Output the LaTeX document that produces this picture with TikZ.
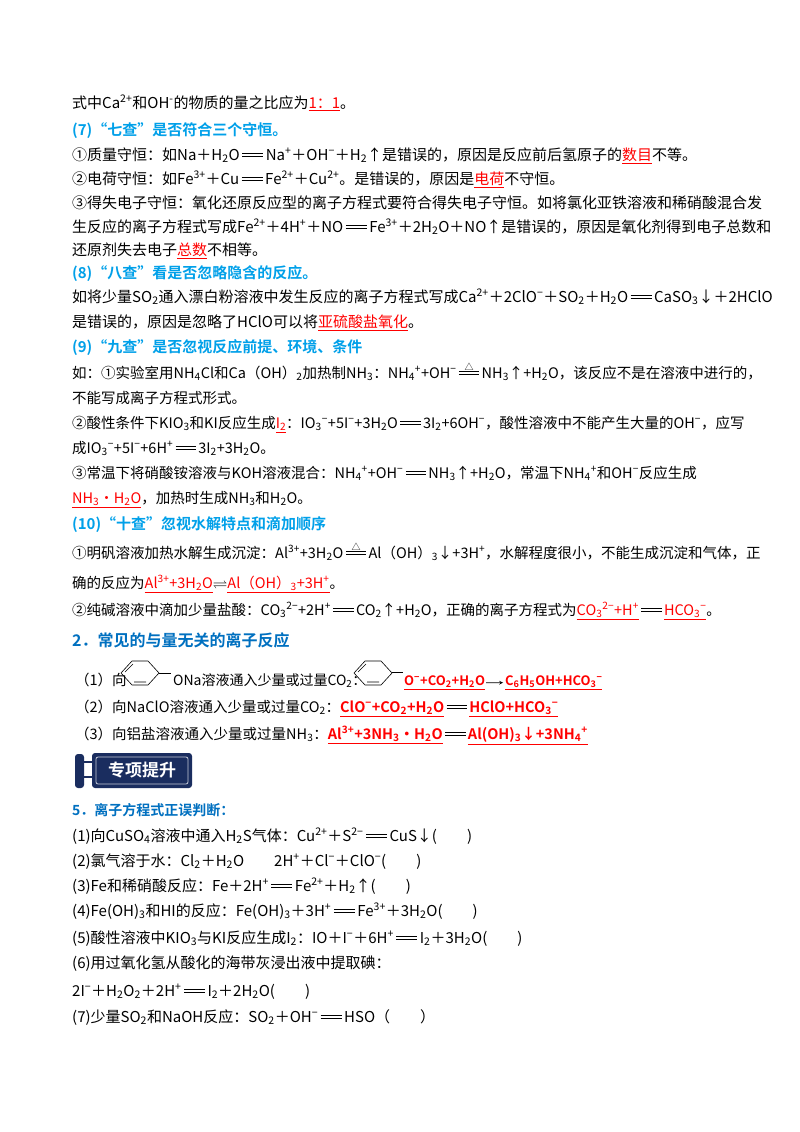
\documentclass[tikz,border=0pt]{standalone}
\usepackage{fontspec}
\setmainfont{Noto Sans CJK SC}[BoldFont={Noto Sans CJK SC Bold}]
\usepackage{amssymb}
\definecolor{hblue}{RGB}{0,160,233}
\definecolor{sblue}{RGB}{0,112,192}
\definecolor{navy}{RGB}{26,45,95}
\newcommand\dn[1]{\textsubscript{#1}}
\newcommand\up[1]{\textsuperscript{#1}}
\newcommand\rd[1]{\textcolor{red}{\underline{#1}}}
\newcommand\rdb[1]{\textcolor{red}{\underline{\textbf{#1}}}}
\newcommand\eqs{\,\rlap{\rule[0.22em]{1.4em}{0.07em}}\rule[0.4em]{1.4em}{0.07em}\,}
\newcommand\eqd{\,\rlap{\raisebox{0.55em}{\makebox[1.4em]{\fontsize{9}{9}\selectfont △}}}\rlap{\rule[0.22em]{1.4em}{0.07em}}\rule[0.4em]{1.4em}{0.07em}\,}
\tikzset{
 txt/.style={anchor=base west, inner sep=0, font=\fontsize{15}{17}\selectfont},
 txs/.style={anchor=base west, inner sep=0, font=\fontsize{14.5}{16}\selectfont},
 head/.style={anchor=base west, inner sep=0, font=\fontsize{15}{17}\selectfont\bfseries, text=hblue},
 ring/.style={line width=0.6pt}
}
\begin{document}
\begin{tikzpicture}[x=1pt,y=-1pt]
\useasboundingbox[fill=white] (0,0) rectangle (800,1132);
\node[txt] (l1) at (72,108) {式中Ca\up{2+}和OH\up{-}的物质的量之比应为\rd{1：1}。};
\node[head] (h7) at (72,135) {(7)“七查”是否符合三个守恒。};
\node[txt] (l2) at (72,160) {①质量守恒：如Na＋H\dn{2}O\eqs Na\up{+}＋OH\up{−}＋H\dn{2}↑是错误的，原因是反应前后氢原子的\rd{数目}不等。};
\node[txt] (l3) at (72,184) {②电荷守恒：如Fe\up{3+}＋Cu\eqs Fe\up{2+}＋Cu\up{2+}。是错误的，原因是\rd{电荷}不守恒。};
\node[txt] (l4) at (72,208) {③得失电子守恒：氧化还原反应型的离子方程式要符合得失电子守恒。如将氯化亚铁溶液和稀硝酸混合发};
\node[txt] (l5) at (72,232) {生反应的离子方程式写成Fe\up{2+}＋4H\up{+}＋NO\eqs Fe\up{3+}＋2H\dn{2}O＋NO↑是错误的，原因是氧化剂得到电子总数和};
\node[txt] (l6) at (72,255) {还原剂失去电子\rd{总数}不相等。};
\node[head] (h8) at (72,278) {(8)“八查”看是否忽略隐含的反应。};
\node[txt] (l7) at (72,302) {如将少量SO\dn{2}通入漂白粉溶液中发生反应的离子方程式写成Ca\up{2+}＋2ClO\up{−}＋SO\dn{2}＋H\dn{2}O\eqs CaSO\dn{3}↓＋2HClO};
\node[txt] (l8) at (72,327) {是错误的，原因是忽略了HClO可以将\rd{亚硫酸盐氧化}。};
\node[head] (h9) at (72,352) {(9)“九查”是否忽视反应前提、环境、条件};
\node[txs] (l9) at (72,378) {如：①实验室用NH\dn{4}Cl和Ca（OH）\dn{2}加热制NH\dn{3}：NH\dn{4}\up{+}+OH\up{−}\eqd NH\dn{3}↑+H\dn{2}O，该反应不是在溶液中进行的，};
\node[txs] (l10) at (72,403) {不能写成离子方程式形式。};
\node[txs] (l11) at (72,428) {②酸性条件下KIO\dn{3}和KI反应生成\rd{I\dn{2}}：IO\dn{3}\up{−}+5I\up{−}+3H\dn{2}O\eqs 3I\dn{2}+6OH\up{−}，酸性溶液中不能产生大量的OH\up{−}，应写};
\node[txs] (l12) at (72,453) {成IO\dn{3}\up{−}+5I\up{−}+6H\up{+}\eqs 3I\dn{2}+3H\dn{2}O。};
\node[txs] (l13) at (72,478) {③常温下将硝酸铵溶液与KOH溶液混合：NH\dn{4}\up{+}+OH\up{−}\eqs NH\dn{3}↑+H\dn{2}O，常温下NH\dn{4}\up{+}和OH\up{−}反应生成};
\node[txs] (l14) at (72,503) {\rd{NH\dn{3}·H\dn{2}O}，加热时生成NH\dn{3}和H\dn{2}O。};
\node[head] (h10) at (72,529) {(10)“十查”忽视水解特点和滴加顺序};
\node[txs] (l15) at (72,558) {①明矾溶液加热水解生成沉淀：Al\up{3+}+3H\dn{2}O\eqd Al（OH）\dn{3}↓+3H\up{+}，水解程度很小，不能生成沉淀和气体，正};
\node[txs] (l16) at (72,588) {确的反应为\rd{Al\up{3+}+3H\dn{2}O}$\rightleftharpoons$\rd{Al（OH）\dn{3}+3H\up{+}}。};
\node[txs] (l17) at (72,615) {②纯碱溶液中滴加少量盐酸：CO\dn{3}\up{2−}+2H\up{+}\eqs CO\dn{2}↑+H\dn{2}O，正确的离子方程式为\rd{CO\dn{3}\up{2−}+H\up{+}}\eqs\rd{HCO\dn{3}\up{−}}。};
\node[anchor=base west, inner sep=0, font=\fontsize{16}{18}\selectfont\bfseries, text=sblue] (h2) at (72,646) {2．常见的与量无关的离子反应};
% line (1)
\node[txs] (s1a) at (75,685) {（1）向};
\draw[ring] (121,673) -- (132,661) -- (148,661) -- (159,673) -- (148,685) -- (132,685) -- cycle;
\draw[ring] (125,672) -- (133,664) (134,682) -- (146,682);
\draw[ring] (159,673) -- (171,673);
\node[txs, font=\fontsize{14}{16}\selectfont] (s1b) at (173,685) {ONa溶液通入少量或过量CO\dn{2}：};
\draw[ring] (354,673) -- (365,661) -- (381,661) -- (392,673) -- (381,685) -- (365,685) -- cycle;
\draw[ring] (358,672) -- (366,664) (367,682) -- (379,682);
\draw[ring] (392,672) -- (403,672);
\node[txs, font=\fontsize{13}{15}\selectfont\bfseries] (s1c) at (404,685) {\rdb{O\up{−}+CO\dn{2}+H\dn{2}O}};
\node[txs, font=\fontsize{13}{15}\selectfont\bfseries] (s1d) at (505,685) {\rdb{C\dn{6}H\dn{5}OH+HCO\dn{3}\up{−}}};
\draw[-stealth, line width=0.7pt] ([xshift=1pt]s1c.east) -- ([xshift=-2pt]s1d.west);
\node[txs] (s2) at (75,712) {（2）向NaClO溶液通入少量或过量CO\dn{2}：\textbf{\rdb{ClO\up{−}+CO\dn{2}+H\dn{2}O}\eqs\rdb{HClO+HCO\dn{3}\up{−}}}};
\node[txs] (s3) at (75,739) {（3）向铝盐溶液通入少量或过量NH\dn{3}：\textbf{\rdb{Al\up{3+}+3NH\dn{3}·H\dn{2}O}\eqs\rdb{Al(OH)\dn{3}↓+3NH\dn{4}\up{+}}}};
% banner
\draw[navy, line width=1.2pt] (83,762) -- (93,762) (83,777) -- (93,777);
\fill[navy, rounded corners=3pt] (75,754) rectangle (84,788);
\fill[navy, rounded corners=3pt] (92,753) rectangle (192,788);
\draw[white!75!navy, line width=0.8pt, rounded corners=2pt] (96,757) rectangle (188,784);
\node[anchor=center, text=white, font=\fontsize{17}{19}\selectfont\bfseries] (ban) at (142,770.5) {专项提升};
\node[anchor=base west, inner sep=0, font=\fontsize{14}{16}\selectfont\bfseries, text=sblue] (h5) at (72,815) {5．离子方程式正误判断：};
\node[txt] (q1) at (72,841) {(1)向CuSO\dn{4}溶液中通入H\dn{2}S气体：Cu\up{2+}＋S\up{2−}\eqs CuS↓(\hspace{2em})};
\node[txt] (q2) at (72,866) {(2)氯气溶于水：Cl\dn{2}＋H\dn{2}O\hspace{2em}2H\up{+}＋Cl\up{−}＋ClO\up{−}(\hspace{2em})};
\node[txt] (q3) at (72,891) {(3)Fe和稀硝酸反应：Fe＋2H\up{+}\eqs Fe\up{2+}＋H\dn{2}↑(\hspace{2em})};
\node[txt] (q4) at (72,916) {(4)Fe(OH)\dn{3}和HI的反应：Fe(OH)\dn{3}＋3H\up{+}\eqs Fe\up{3+}＋3H\dn{2}O(\hspace{2em})};
\node[txt] (q5) at (72,943) {(5)酸性溶液中KIO\dn{3}与KI反应生成I\dn{2}：IO＋I\up{−}＋6H\up{+}\eqs I\dn{2}＋3H\dn{2}O(\hspace{2em})};
\node[txt] (q6) at (72,968) {(6)用过氧化氢从酸化的海带灰浸出液中提取碘：};
\node[txt] (q7) at (72,996) {2I\up{−}＋H\dn{2}O\dn{2}＋2H\up{+}\eqs I\dn{2}＋2H\dn{2}O(\hspace{2em})};
\node[txt] (q8) at (72,1022) {(7)少量SO\dn{2}和NaOH反应：SO\dn{2}＋OH\up{−}\eqs HSO（\hspace{2em}）};
\end{tikzpicture}
\end{document}
